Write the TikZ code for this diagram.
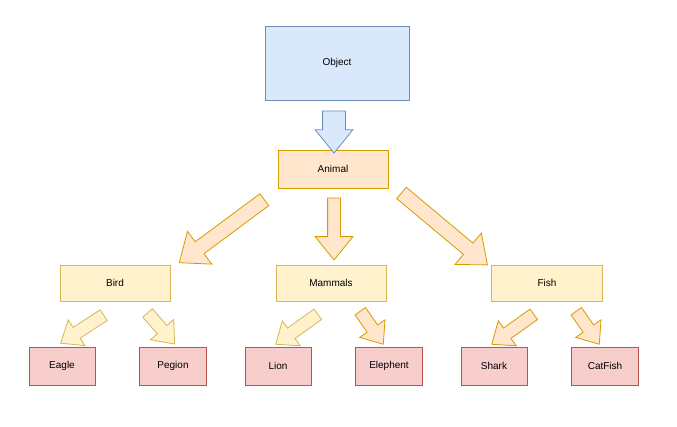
\documentclass[tikz,border=0pt]{standalone}
\usepackage{fontspec}
\setmainfont{Liberation Sans}
\usetikzlibrary{shapes.arrows,calc}
\definecolor{bfill}{HTML}{DAE8FC}\definecolor{bline}{HTML}{6C8EBF}
\definecolor{ofill}{HTML}{FFE6CC}\definecolor{oline}{HTML}{D79B00}
\definecolor{yfill}{HTML}{FFF2CC}\definecolor{yline}{HTML}{D6B656}
\definecolor{rfill}{HTML}{F8CECC}\definecolor{rline}{HTML}{B85450}
\tikzset{
 box/.style={draw, line width=0.8pt, inner sep=0pt, font=\fontsize{10}{12}\selectfont},
 blue/.style={box, fill=bfill, draw=bline},
 orange/.style={box, fill=ofill, draw=oline},
 yellow/.style={box, fill=yfill, draw=yline},
 red/.style={box, fill=rfill, draw=rline},
 ob/.style={fill=ofill, draw=oline},
 yb/.style={fill=yfill, draw=yline},
 bb/.style={fill=bfill, draw=bline},
}
% #1 name, #2 tail, #3 tip, #4 shaft, #5 head, #6 style
\newcommand{\barrow}[6]{%
 \path let \p1=($(#3)-(#2)$), \n1={veclen(\x1,\y1)}, \n2={atan2(\y1,\x1)} in
  node[single arrow, #6, line width=0.8pt, minimum height=\n1, inner sep=#4/2,
   single arrow head extend={(#5-#4)/2}, single arrow tip angle=78, rotate=\n2,
   text width=0pt, text height=0pt, text depth=0pt] (#1) at ($(#2)!0.5!(#3)$) {};}
\begin{document}
\begin{tikzpicture}[x=1pt,y=-1pt]
\useasboundingbox (0,0) rectangle (677,426);
\node[blue, minimum width=144, minimum height=74] (object) at (337,63) {Object};
\node[orange, minimum width=110, minimum height=38] (animal) at (333,169) {Animal};
\node[yellow, minimum width=110, minimum height=36] (bird) at (115,283) {Bird};
\node[yellow, minimum width=110, minimum height=36] (mammals) at (331,283) {Mammals};
\node[yellow, minimum width=111, minimum height=36] (fish) at (547,283) {Fish};
\node[red, minimum width=66, minimum height=38] (eagle) at (62,366) {Eagle};
\node[red, minimum width=67, minimum height=38] (pegion) at (173,366) {Pegion};
\node[red, minimum width=66, minimum height=38] (lion) at (278,366) {Lion};
\node[red, minimum width=67, minimum height=38] (elephent) at (389,366) {Elephent};
\node[red, minimum width=66, minimum height=38] (shark) at (494,366) {Shark};
\node[red, minimum width=67, minimum height=38] (catfish) at (605,366) {CatFish};
\coordinate (t0) at (334,104); \coordinate (h0) at (334,146);
\coordinate (t1) at (268,197); \coordinate (h1) at (183,260);
\coordinate (t2) at (334,194); \coordinate (h2) at (334,256);
\coordinate (t3) at (398,190); \coordinate (h3) at (484,262);
\coordinate (t4) at (107,313); \coordinate (h4) at (64,341);
\coordinate (t5) at (145,310); \coordinate (h5) at (172,341);
\coordinate (t6) at (321,312); \coordinate (h6) at (279,342);
\coordinate (t7) at (358,308); \coordinate (h7) at (381,341);
\coordinate (t8) at (537,312); \coordinate (h8) at (495,342);
\coordinate (t9) at (574,308); \coordinate (h9) at (597,341);
\barrow{a0}{t0}{h0}{22}{37}{bb}
\barrow{a1}{t1}{h1}{14}{40}{ob}
\barrow{a2}{t2}{h2}{12}{37}{ob}
\barrow{a3}{t3}{h3}{14}{40}{ob}
\barrow{a4}{t4}{h4}{12}{30}{yb}
\barrow{a5}{t5}{h5}{12}{30}{yb}
\barrow{a6}{t6}{h6}{12}{30}{yb}
\barrow{a7}{t7}{h7}{12}{30}{ob}
\barrow{a8}{t8}{h8}{12}{30}{ob}
\barrow{a9}{t9}{h9}{12}{30}{ob}
\end{tikzpicture}
\end{document}
